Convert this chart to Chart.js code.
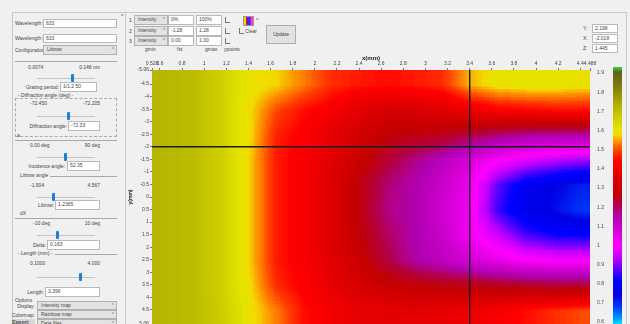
<!DOCTYPE html>
<html>
<head>
<meta charset="utf-8">
<script src="https://cdn.jsdelivr.net/npm/chart.js@4.4.0/dist/chart.umd.min.js"></script>
<style>
  body { margin: 0; width: 630px; height: 324px; overflow: hidden; background: #f0f0f0;
         font-family: "Liberation Sans", Arial, sans-serif; font-size: 5px; color: #444; position: relative; }
  .lab { position: absolute; white-space: nowrap; line-height: 6px; height: 6px; }
  .box { position: absolute; background: #fff; border: 1px solid #b9b9b9; box-sizing: border-box;
         line-height: 7px; padding-left: 2px; white-space: nowrap; overflow: hidden; }
  .combo { position: absolute; background: #e3e3e3; border: 1px solid #b0b0b0; box-sizing: border-box;
           line-height: 7px; padding-left: 3px; white-space: nowrap; overflow: hidden; }
  .combo:after { content: "^"; position: absolute; right: 2px; top: 0; color: #666; }
  .line { position: absolute; height: 1px; background: #a8a8a8; }
  .track { position: absolute; height: 1px; background: #c4c4c4; }
  .thumb { position: absolute; width: 3px; height: 8px; background: #1e7fd6; border-radius: 1px; }
  .chk { position: absolute; width: 4px; height: 5px; border-left: 1px solid #777; border-bottom: 1px solid #777; }
  .btn { position: absolute; background: #e1e1e1; border: 1px solid #adadad; box-sizing: border-box; text-align: center; }
  #chart { position: absolute; left: 126px; top: 48px; }
</style>
</head>
<body>
<div id="ui"></div>
<canvas id="chart" width="504" height="276"></canvas>
<script>
// axis ticks
var xTicks = [0.528, 0.6, 0.8, 1, 1.2, 1.4, 1.6, 1.8, 2, 2.2, 2.4, 2.6, 2.8, 3, 3.2, 3.4, 3.6, 3.8, 4, 4.2, 4.4, 4.488];
var yTicks = [-5.06, -4.5, -4, -3.5, -3, -2.5, -2, -1.5, -1, -0.5, 0, 0.5, 1, 1.5, 2, 2.5, 3, 3.5, 4, 4.5, 5.06];
var cbTicks = [1.9, 1.8, 1.7, 1.6, 1.5, 1.4, 1.3, 1.2, 1.1, 1, 0.9, 0.8, 0.7, 0.6];

// heat map samples: column centres (x) and one row per y centre
var gridX = [0.65, 0.9, 1.15, 1.4, 1.65, 1.9, 2.15, 2.4, 2.65, 2.9, 3.15, 3.4, 3.65, 3.9, 4.15, 4.4];
var gridY = [-4.5, -3.5, -2.5, -1.5, -0.5, 0.5, 1.5, 2.5, 3.5, 4.5];
var zAtYm4_5 = [1.72, 1.71, 1.66, 1.6, 1.58, 1.53, 1.48, 1.46, 1.45, 1.46, 1.48, 1.56, 1.6, 1.61, 1.61, 1.6];
var zAtYm3_5 = [1.72, 1.71, 1.66, 1.59, 1.5, 1.45, 1.42, 1.36, 1.33, 1.34, 1.36, 1.4, 1.43, 1.44, 1.45, 1.45];
var zAtYm2_5 = [1.72, 1.71, 1.66, 1.59, 1.47, 1.43, 1.37, 1.32, 1.28, 1.27, 1.25, 1.22, 1.19, 1.17, 1.16, 1.16];
var zAtYm1_5 = [1.72, 1.71, 1.66, 1.58, 1.46, 1.42, 1.36, 1.3, 1.23, 1.18, 1.13, 1.07, 1.01, 0.97, 0.94, 0.92];
var zAtYm0_5 = [1.72, 1.71, 1.66, 1.58, 1.46, 1.42, 1.35, 1.27, 1.19, 1.15, 1.1, 1.03, 0.88, 0.79, 0.75, 0.71];
var zAtY0_5 = [1.72, 1.71, 1.66, 1.58, 1.46, 1.42, 1.35, 1.27, 1.18, 1.15, 1.09, 1.02, 0.86, 0.77, 0.73, 0.69];
var zAtY1_5 = [1.72, 1.71, 1.66, 1.58, 1.46, 1.42, 1.35, 1.28, 1.2, 1.15, 1.1, 1.02, 0.95, 0.87, 0.83, 0.82];
var zAtY2_5 = [1.72, 1.71, 1.66, 1.58, 1.46, 1.42, 1.36, 1.3, 1.22, 1.16, 1.12, 1.08, 1.04, 1.01, 1.0, 1.0];
var zAtY3_5 = [1.72, 1.71, 1.66, 1.59, 1.48, 1.43, 1.38, 1.33, 1.3, 1.28, 1.27, 1.26, 1.25, 1.24, 1.23, 1.23];
var zAtY4_5 = [1.72, 1.71, 1.67, 1.6, 1.53, 1.45, 1.41, 1.38, 1.37, 1.37, 1.38, 1.4, 1.42, 1.45, 1.48, 1.5];
var zGrid = [zAtYm4_5, zAtYm3_5, zAtYm2_5, zAtYm1_5, zAtYm0_5, zAtY0_5, zAtY1_5, zAtY2_5, zAtY3_5, zAtY4_5];

// cursor position
var crossX = 3.4;
var crossY = -2;

// colour scale stops (value -> rgb)
var cmapVals = [0.59, 0.62, 0.67, 0.74, 0.82, 0.88, 0.94, 1.0, 1.07, 1.15, 1.22, 1.28, 1.36, 1.44, 1.49, 1.54, 1.58, 1.61, 1.68, 1.75, 1.82, 1.9, 1.907, 1.93];
var cmapColors = [[0, 224, 255], [0, 150, 255], [0, 70, 255], [0, 0, 228], [0, 0, 255], [100, 0, 255], [200, 0, 255],
  [255, 0, 255], [215, 0, 215], [176, 0, 176], [180, 0, 60], [195, 0, 0], [225, 0, 0], [255, 0, 0], [255, 60, 0],
  [255, 140, 0], [240, 220, 0], [228, 228, 0], [200, 200, 0], [170, 168, 0], [130, 130, 10], [98, 100, 20], [90, 110, 25], [70, 200, 70]];

var zMin = 0.59, zMax = 1.93;

function cmap(v) {
  if (v <= cmapVals[0]) return cmapColors[0];
  for (var i = 1; i < cmapVals.length; i++) {
    if (v <= cmapVals[i]) {
      var t = (v - cmapVals[i - 1]) / (cmapVals[i] - cmapVals[i - 1]);
      var a = cmapColors[i - 1], b = cmapColors[i];
      return [a[0] + (b[0] - a[0]) * t, a[1] + (b[1] - a[1]) * t, a[2] + (b[2] - a[2]) * t];
    }
  }
  return cmapColors[cmapColors.length - 1];
}

// ---------- little GUI around the chart ----------
var ui = document.getElementById("ui");
function el(cls, x, y, w, h, txt) {
  var d = document.createElement("div");
  d.className = cls;
  d.style.left = x + "px";
  d.style.top = y + "px";
  if (w) d.style.width = w + "px";
  if (h) d.style.height = h + "px";
  if (txt) d.textContent = txt;
  ui.appendChild(d);
  return d;
}
function lab(x, yc, txt) { return el("lab", x, yc - 3, 0, 0, txt); }
function labR(xr, yc, txt) {
  var d = el("lab", xr - 60, yc - 3, 60, 0, txt);
  d.style.textAlign = "right";
  return d;
}
function slider(x0, x1, yc, tx) {
  el("track", x0, yc, x1 - x0, 1);
  el("thumb", tx - 1, yc - 4);
}
function hline(x0, x1, y) { el("line", x0, y, x1 - x0); }

// frames
var fr = el("", 12, 12, 113, 320);
fr.style.position = "absolute";
fr.style.borderLeft = "1px solid #c8c8c8";
fr.style.borderTop = "1px solid #c8c8c8";
var fr2 = el("", 125, 12, 500, 320);
fr2.style.position = "absolute";
fr2.style.border = "1px solid #c8c8c8";
lab(121, 16, "^");

// left panel
lab(15, 23, "Wavelength L1:"); el("box", 43, 19, 74, 9, "633");
lab(15, 38, "Wavelength L2:"); el("box", 43, 34, 74, 9, "633");
lab(15, 50, "Configuration:"); el("combo", 43, 45, 74, 10, "Littrow");
hline(15, 117, 61);
lab(28, 67, "0.0074"); labR(100, 67, "0.148 nm");
slider(37, 95, 78, 72);
labR(59, 87, "Grating period:"); el("box", 60, 82, 37, 10, "1/1.2 50");
lab(18, 95, "- Diffraction angle (deg) -");
var db = el("", 15, 98, 102, 39);
db.style.position = "absolute";
db.style.border = "1px dashed #aaa";
db.style.boxSizing = "border-box";
lab(30, 103, "-72.450"); labR(100, 103, "-72.205");
slider(37, 95, 116, 68);
labR(67, 126, "Diffraction angle:"); el("box", 68, 121, 32, 10, "-72.33");
lab(17, 135, "a");
hline(15, 117, 140);
lab(30, 145, "0.00 deg"); labR(100, 145, "90 deg");
slider(37, 95, 157, 65);
labR(65, 166, "Incidence angle:"); el("box", 67, 161, 33, 10, "52.35");
lab(20, 175, "Littrow angle"); hline(50, 117, 176);
lab(30, 185, "-1.904"); labR(100, 185, "4.567");
slider(37, 95, 197, 53);
labR(54, 205, "Littrow:"); el("box", 55, 200, 45, 10, "1.2365");
lab(20, 213, "dX");
hline(15, 117, 218);
lab(33, 223, "-10 deg"); labR(100, 223, "10 deg");
slider(37, 95, 235, 57);
labR(46, 245, "Delta:"); el("box", 47, 240, 53, 10, "0.163");
lab(18, 253, "- Length (mm) -"); hline(55, 117, 254);
lab(30, 263, "0.1000"); labR(100, 263, "4.000");
slider(37, 95, 277, 80);
labR(44, 292, "Length:"); el("box", 45, 287, 55, 10, "3.396");
lab(15, 300, "Options");
labR(35, 306, "Display:"); el("combo", 37, 301, 80, 9, "Intensity map");
labR(35, 315, "Colormap:"); el("combo", 37, 310, 80, 9, "Rainbow map");
var ex = el("lab", 12, 319, 23, 0, "Export:");
ex.style.background = "#d6d6d6"; ex.style.fontWeight = "bold";
el("combo", 37, 319, 80, 9, "Data files");

// top toolbar
var rowsY = [20, 31, 41];
var lowVals = ["0%", "-1.28", "0.00"];
var highVals = ["100%", "1.28", "1.00"];
for (var i = 0; i < 3; i++) {
  lab(129, rowsY[i], String(i + 1));
  el("combo", 134, rowsY[i] - 5, 34, 10, "Intensity");
  el("box", 168, rowsY[i] - 5, 26, 10, lowVals[i]);
  el("box", 196, rowsY[i] - 5, 26, 10, highVals[i]);
  el("chk", 225, rowsY[i] - 3);
}
var sw = el("", 243, 16, 11, 10);
sw.style.position = "absolute";
sw.style.background = "linear-gradient(90deg,#ffd000 0 18%,#ff0000 18% 36%,#3030ff 36% 62%,#c000ff 62% 80%,#ff40c0 80%)";
sw.style.border = "1px solid #999";
sw.style.boxSizing = "border-box";
lab(256, 20, "^");
el("chk", 239, 28);
lab(245, 31, "Clear");
lab(145, 49, "gmin"); lab(177, 49, "fst"); lab(205, 49, "gmax"); lab(224, 49, "ypoints");
var bt = el("btn", 266, 25, 30, 19, "Update");
bt.style.lineHeight = "17px";

// cursor readout
lab(583, 28, "Y:"); el("box", 592, 24, 26, 9, "2.198");
lab(583, 38, "X:"); el("box", 592, 34, 26, 9, "-2.018");
lab(583, 48, "Z:"); el("box", 592, 44, 26, 9, "1.445");

// ---------- chart ----------
function fmt(v) { return String(+Number(v).toFixed(3)); }
function noPad(s) { s.paddingTop = 0; s.paddingBottom = 0; s.paddingLeft = 0; s.paddingRight = 0; }

var heatmapPlugin = {
  id: "heatmap",
  beforeDatasetsDraw: function (chart) {
    var ctx = chart.ctx, a = chart.chartArea, x = chart.scales.x, y = chart.scales.y;
    var nc = gridX.length, nr = gridY.length;
    // value image with replicated border, smoothed by the canvas when scaled
    var src = document.createElement("canvas");
    src.width = nc + 2; src.height = nr + 2;
    var sctx = src.getContext("2d");
    var img = sctx.createImageData(nc + 2, nr + 2);
    for (var r = 0; r < nr + 2; r++) {
      for (var c = 0; c < nc + 2; c++) {
        var rr = Math.min(nr - 1, Math.max(0, r - 1));
        var cc = Math.min(nc - 1, Math.max(0, c - 1));
        var g = Math.round((zGrid[rr][cc] - zMin) / (zMax - zMin) * 255);
        var k = (r * (nc + 2) + c) * 4;
        img.data[k] = g; img.data[k + 1] = g; img.data[k + 2] = g; img.data[k + 3] = 255;
      }
    }
    sctx.putImageData(img, 0, 0);
    var dx = gridX[1] - gridX[0], dy = gridY[1] - gridY[0];
    var x0 = x.getPixelForValue(gridX[0] - 1.5 * dx), x1 = x.getPixelForValue(gridX[nc - 1] + 1.5 * dx);
    var y0 = y.getPixelForValue(gridY[0] - 1.5 * dy), y1 = y.getPixelForValue(gridY[nr - 1] + 1.5 * dy);
    var W = Math.round(a.right - a.left), H = Math.round(a.bottom - a.top);
    var buf = document.createElement("canvas");
    buf.width = W; buf.height = H;
    var b = buf.getContext("2d");
    b.imageSmoothingEnabled = true;
    b.drawImage(src, x0 - a.left, y0 - a.top, x1 - x0, y1 - y0);
    var px = b.getImageData(0, 0, W, H);
    var lut = [];
    for (var q = 0; q < 256; q++) lut.push(cmap(zMin + q / 255 * (zMax - zMin)));
    for (var p = 0; p < px.data.length; p += 4) {
      var col = lut[px.data[p]];
      px.data[p] = col[0]; px.data[p + 1] = col[1]; px.data[p + 2] = col[2]; px.data[p + 3] = 255;
    }
    b.putImageData(px, 0, 0);
    ctx.drawImage(buf, Math.round(a.left), Math.round(a.top));

    // colour bar next to its scale labels
    var cb = chart.scales.cb;
    var bx = cb.left + 23;
    for (var py = Math.round(a.top) - 3; py < a.bottom; py++) {
      var cv = cmap(cb.getValueForPixel(py + 0.5));
      ctx.fillStyle = "rgb(" + Math.round(cv[0]) + "," + Math.round(cv[1]) + "," + Math.round(cv[2]) + ")";
      ctx.fillRect(bx, py, 9, 1);
    }
  }
};

var tickFont = { size: 5, family: "Liberation Sans" };

new Chart(document.getElementById("chart"), {
  type: "scatter",
  data: {
    datasets: [
      {
        data: [{ x: crossX, y: yTicks[0] }, { x: crossX, y: yTicks[yTicks.length - 1] }],
        showLine: true, borderColor: "#1c1c1c", borderWidth: 1, pointRadius: 0,
      },
      {
        data: [{ x: xTicks[0], y: crossY }, { x: xTicks[xTicks.length - 1], y: crossY }],
        showLine: true, borderColor: "#1c1c1c", borderWidth: 1.4, pointRadius: 0,
      },
    ],
  },
  options: {
    responsive: false,
    animation: false,
    layout: { padding: 0 },
    plugins: { legend: { display: false }, tooltip: { enabled: false } },
    scales: {
      x: {
        type: "linear", position: "top",
        min: xTicks[0], max: xTicks[xTicks.length - 1],
        afterBuildTicks: function (s) { s.ticks = xTicks.map(function (v) { return { value: v }; }); },
        afterFit: function (s) { s.height = 22; noPad(s); },
        ticks: { font: tickFont, color: "#444", padding: 1, maxRotation: 0, autoSkip: false, callback: fmt },
        grid: { drawOnChartArea: false, tickLength: 2, color: "#777" },
        border: { color: "#666", dash: [1, 1] },
        title: { display: true, text: "x(mm)", font: { size: 6, weight: "bold", family: "Liberation Sans" }, color: "#222", padding: { top: 7, bottom: 0 } },
      },
      y: {
        type: "linear", position: "left", reverse: true,
        min: yTicks[0], max: yTicks[yTicks.length - 1],
        afterBuildTicks: function (s) { s.ticks = yTicks.map(function (v) { return { value: v }; }); },
        afterFit: function (s) { s.width = 26; noPad(s); },
        ticks: { font: tickFont, color: "#444", padding: 1, autoSkip: false, callback: fmt },
        grid: { drawOnChartArea: false, tickLength: 2, color: "#777" },
        border: { color: "#666", dash: [1, 1] },
        title: { display: true, text: "y(mm)", font: { size: 5, weight: "bold", family: "Liberation Sans" }, color: "#222", padding: { top: 2, bottom: 0 } },
      },
      cb: {
        type: "linear", position: "right",
        min: 0.59, max: 1.916,
        afterBuildTicks: function (s) { s.ticks = cbTicks.map(function (v) { return { value: v }; }); },
        afterFit: function (s) { s.width = 40; noPad(s); },
        ticks: { font: tickFont, color: "#444", padding: 7, autoSkip: false, callback: fmt },
        grid: { display: false, drawTicks: false },
        border: { display: false },
      },
    },
  },
  plugins: [heatmapPlugin],
});
</script>
</body>
</html>
